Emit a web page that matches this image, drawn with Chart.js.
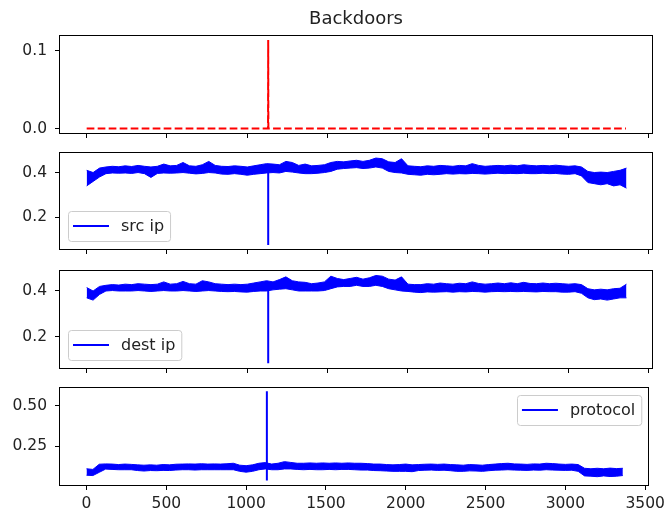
<!DOCTYPE html>
<html>
<head>
<meta charset="utf-8">
<script src="https://cdn.jsdelivr.net/npm/chart.js@4"></script>
<style>
  html, body { margin: 0; padding: 0; background: #fff; }
  #fig { position: relative; width: 670px; height: 514px; overflow: hidden; }
  .panel { position: absolute; left: 0; width: 670px; }
</style>
</head>
<body>
<div id="fig">
  <div class="panel" style="top:0px;height:153px"><canvas id="c1"></canvas></div>
  <div class="panel" style="top:133px;height:136px"><canvas id="c2"></canvas></div>
  <div class="panel" style="top:251px;height:137px"><canvas id="c3"></canvas></div>
  <div class="panel" style="top:368px;height:146px"><canvas id="c4"></canvas></div>
</div>
<script>
// shared x ticks
const xTicks = [0, 500, 1000, 1500, 2000, 2500, 3000, 3500];

// top panel: backdoor label (red dashed)
const labelX = [0, 1129, 1130, 1131, 3357];
const labelY = [0, 0, 0.114, 0, 0];
const labelTicks = [0.0, 0.1];

// src ip band, sampled every 40 rows (upper / lower edge of the noise)
const srcHigh = [
  .41, .40, .42, .425, .428, .426, .43, .427, .432, .428,
  .425, .428, .438, .43, .432, .445, .43, .428, .435, .45,
  .432, .428, .427, .43, .428, .425, .43, .435, .44, .438,
  .435, .45, .445, .432, .438, .43, .432, .435, .445, .45,
  .448, .452, .455, .45, .455, .465, .462, .448, .445, .462,
  .43, .428, .426, .43, .428, .432, .43, .428, .432, .43,
  .44, .432, .428, .43, .432, .43, .433, .43, .435, .432,
  .43, .432, .43, .433, .43, .428, .43, .425, .405, .40,
  .402, .40, .405, .41, .42
];
const srcLow = [
  .34, .36, .38, .395, .398, .397, .398, .396, .40, .395,
  .378, .396, .398, .397, .398, .40, .397, .394, .396, .40,
  .398, .393, .392, .395, .392, .388, .392, .395, .398, .40,
  .398, .405, .402, .398, .395, .395, .397, .40, .405, .415,
  .418, .42, .422, .418, .42, .425, .42, .405, .40, .398,
  .392, .39, .388, .392, .39, .392, .395, .393, .395, .394,
  .396, .395, .393, .395, .397, .395, .396, .395, .397, .395,
  .395, .397, .395, .396, .393, .392, .395, .385, .355, .35,
  .345, .35, .34, .345, .33
];
const srcSpike = [0.43, 0.075];
const srcTicks = [0.2, 0.4];

// dest ip band
const destHigh = [
  .415, .40, .42, .425, .428, .426, .43, .428, .432, .43,
  .428, .43, .44, .43, .432, .442, .432, .43, .445, .44,
  .432, .43, .428, .43, .428, .43, .435, .44, .445, .44,
  .45, .462, .445, .44, .438, .432, .435, .44, .465, .455,
  .45, .455, .46, .452, .458, .468, .465, .452, .448, .462,
  .43, .428, .428, .432, .43, .435, .432, .43, .434, .432,
  .44, .433, .43, .432, .435, .432, .436, .432, .438, .433,
  .432, .435, .432, .434, .432, .43, .432, .428, .41, .405,
  .408, .405, .41, .412, .43
];
const destLow = [
  .37, .36, .385, .40, .402, .40, .40, .40, .402, .40,
  .398, .40, .402, .40, .40, .402, .40, .398, .40, .402,
  .40, .398, .397, .398, .396, .395, .398, .40, .40, .405,
  .408, .41, .405, .40, .40, .40, .40, .402, .41, .418,
  .42, .42, .425, .42, .42, .425, .42, .41, .405, .40,
  .398, .395, .393, .396, .395, .396, .397, .395, .397, .396,
  .398, .397, .395, .397, .398, .397, .398, .397, .398, .397,
  .396, .398, .397, .397, .395, .395, .397, .39, .37, .362,
  .365, .36, .365, .37, .37
];
const destSpike = [0.44, 0.083];
const destTicks = [0.2, 0.4];

// protocol band
const protoHigh = [
  .112, .108, .14, .142, .141, .138, .141, .139, .136, .134,
  .136, .134, .138, .136, .14, .141, .142, .141, .143, .141,
  .142, .141, .143, .146, .134, .131, .136, .146, .15, .141,
  .146, .156, .151, .146, .146, .148, .146, .148, .146, .148,
  .146, .148, .146, .146, .144, .141, .141, .138, .136, .138,
  .141, .136, .138, .14, .141, .139, .141, .138, .136, .134,
  .138, .136, .134, .138, .141, .144, .146, .142, .141, .139,
  .142, .141, .146, .144, .141, .139, .141, .138, .115, .112,
  .115, .112, .116, .113, .115
];
const protoLow = [
  .072, .07, .09, .11, .108, .106, .106, .106, .101, .098,
  .101, .10, .102, .101, .104, .106, .106, .104, .106, .106,
  .106, .106, .106, .106, .096, .091, .096, .106, .111, .106,
  .106, .111, .111, .108, .106, .108, .106, .106, .108, .106,
  .108, .108, .106, .104, .104, .101, .10, .098, .096, .096,
  .096, .094, .101, .103, .104, .102, .103, .10, .096, .096,
  .099, .098, .096, .10, .103, .104, .106, .104, .103, .102,
  .104, .103, .106, .104, .103, .102, .103, .096, .068, .066,
  .063, .068, .064, .066, .07
];
const protoSpike = [0.04, 0.59];
const protoTicks = [0.25, 0.5];

const spikeAt = 1130;
const sampleX = srcHigh.map((_, i) => i * 40);

const BLUE = "#0000ff";
const RED = "#ff0000";
const FONT = "DejaVu Sans";

Chart.defaults.font.family = FONT;
Chart.defaults.color = "#222";

// matplotlib-like box around the axes + legend drawn inside it
const framePlugin = {
  id: "frame",
  afterDraw(chart, args, opts) {
    const { ctx, chartArea: a } = chart;
    ctx.save();
    ctx.strokeStyle = "#000";
    ctx.lineWidth = 1;
    const l = Math.round(a.left) - 0.5;
    const t = Math.round(a.top) - 0.5;
    const r = Math.round(a.right) + 0.5;
    const b = Math.round(a.bottom) + 0.5;
    ctx.strokeRect(l, t, r - l, b - t);

    if (opts.label) {
      ctx.font = "16px " + FONT;
      const tw = ctx.measureText(opts.label).width;
      const w = 5 + 36 + 12 + tw + 6;
      const h = 30;
      let x, y;
      if (opts.place === "upper right") {
        x = a.right - 7 - w;
        y = a.top + 7;
      } else {
        x = a.left + 8;
        y = a.bottom - 8 - h;
      }
      ctx.beginPath();
      ctx.roundRect(Math.round(x) + 0.5, Math.round(y) + 0.5, w, h, 3);
      ctx.fillStyle = "rgba(255,255,255,0.8)";
      ctx.fill();
      ctx.strokeStyle = "#cccccc";
      ctx.stroke();
      const cy = Math.round(y + h / 2);
      ctx.beginPath();
      ctx.moveTo(x + 5, cy);
      ctx.lineTo(x + 41, cy);
      ctx.strokeStyle = BLUE;
      ctx.lineWidth = 2;
      ctx.stroke();
      ctx.fillStyle = "#222";
      ctx.textBaseline = "middle";
      ctx.fillText(opts.label, x + 53, cy + 1);
    }
    ctx.restore();
  },
};
Chart.register(framePlugin);

function pts(xs, ys) {
  return ys.map((y, i) => ({ x: xs[i], y: y }));
}

function bandSets(high, low, spike) {
  return [
    {
      data: pts(sampleX, high),
      borderColor: BLUE,
      backgroundColor: BLUE,
      borderWidth: 1,
      fill: "+1",
    },
    {
      data: pts(sampleX, low),
      borderColor: BLUE,
      borderWidth: 1,
      fill: false,
    },
    {
      data: pts([spikeAt, spikeAt], spike),
      borderColor: BLUE,
      borderWidth: 2,
      fill: false,
    },
  ];
}

function makePanel(id, opt) {
  const ctx = document.getElementById(id).getContext("2d");
  return new Chart(ctx, {
    type: "line",
    data: { datasets: opt.datasets },
    options: {
      responsive: true,
      maintainAspectRatio: false,
      animation: false,
      events: [],
      layout: { padding: { top: opt.padTop, right: 18, left: 0, bottom: 0 } },
      elements: { point: { radius: 0 }, line: { tension: 0 } },
      plugins: {
        legend: { display: false },
        tooltip: { enabled: false },
        title: opt.title
          ? {
              display: true,
              text: opt.title,
              fullSize: false,
              color: "#222",
              font: { size: 18, weight: "normal" },
              padding: { top: 9, bottom: 5.4 },
            }
          : { display: false },
        frame: { label: opt.label, place: opt.place },
      },
      scales: {
        x: {
          type: "linear",
          min: -166,
          max: 3519,
          afterBuildTicks: (s) => {
            s.ticks = xTicks.map((v) => ({ value: v }));
          },
          afterFit: (s) => {
            s.height = opt.xHeight;
          },
          border: { display: false },
          grid: {
            drawOnChartArea: false,
            drawTicks: true,
            tickLength: 5,
            color: "#000",
          },
          ticks: {
            display: opt.xLabels,
            padding: 5,
            maxRotation: 0,
            font: { size: 15.5 },
            callback: (v) => String(v),
          },
        },
        y: {
          min: opt.yMin,
          max: opt.yMax,
          afterBuildTicks: (s) => {
            s.ticks = opt.yTicks.map((v) => ({ value: v }));
          },
          afterFit: (s) => {
            s.width = 60;
          },
          border: { display: false },
          grid: {
            drawOnChartArea: false,
            drawTicks: true,
            tickLength: 5,
            color: "#000",
          },
          ticks: {
            padding: 8,
            font: { size: 15.5 },
            callback: (v) => v.toFixed(opt.decimals),
          },
        },
      },
    },
  });
}

makePanel("c1", {
  datasets: [
    {
      data: pts(labelX, labelY),
      borderColor: RED,
      borderWidth: 2,
      borderDash: [7.7, 3.3],
      fill: false,
    },
  ],
  title: "Backdoors",
  padTop: 0,
  xHeight: 20,
  xLabels: false,
  yMin: -0.0057,
  yMax: 0.1193,
  yTicks: labelTicks,
  decimals: 1,
});

makePanel("c2", {
  datasets: bandSets(srcHigh, srcLow, srcSpike),
  padTop: 20,
  xHeight: 20,
  xLabels: false,
  yMin: 0.0568,
  yMax: 0.4877,
  yTicks: srcTicks,
  decimals: 1,
  label: "src ip",
  place: "lower left",
});

makePanel("c3", {
  datasets: bandSets(destHigh, destLow, destSpike),
  padTop: 20,
  xHeight: 20,
  xLabels: false,
  yMin: 0.0623,
  yMax: 0.4877,
  yTicks: destTicks,
  decimals: 1,
  label: "dest ip",
  place: "lower left",
});

makePanel("c4", {
  datasets: bandSets(protoHigh, protoLow, protoSpike),
  padTop: 20,
  xHeight: 29,
  xLabels: true,
  yMin: 0.0117,
  yMax: 0.6108,
  yTicks: protoTicks,
  decimals: 2,
  label: "protocol",
  place: "upper right",
});
</script>
</body>
</html>
